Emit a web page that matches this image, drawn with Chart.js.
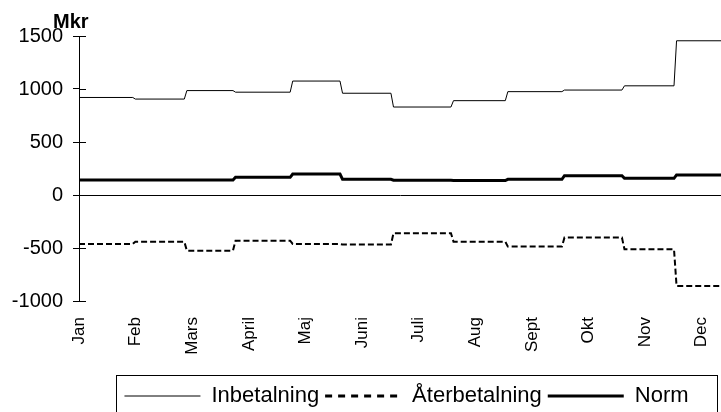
<!DOCTYPE html>
<html><head><meta charset="utf-8">
<script src="https://cdn.jsdelivr.net/npm/chart.js@4/dist/chart.umd.min.js"></script>
<style>html,body{margin:0;padding:0;background:#fff;}canvas{display:block;}</style>
</head><body>
<canvas id="c" width="721" height="412"></canvas>
<script>
const months = ['Jan','Feb','Mars','April','Maj','Juni','Juli','Aug','Sept','Okt','Nov','Dec'];
// position (in month units) where each monthly level begins
const stepStarts = [0, 0.95, 1.86, 2.72, 3.73, 4.61, 5.51, 6.57, 7.53, 8.53, 9.59, 10.51];
const inbetalning = [920, 905, 985, 970, 1075, 960, 830, 890, 975, 990, 1030, 1455];
const aterbetalning = [-462, -440, -525, -431, -462, -467, -361, -440, -487, -402, -512, -858];
const norm = [141, 141, 141, 167, 198, 148, 139, 136, 148, 182, 157, 189];
const yTicks = [-1000, -500, 0, 500, 1000, 1500];
const xEnd = 11.34;
const ramp = 0.045;

function stepPoints(values) {
  const pts = [];
  values.forEach((v, i) => {
    const x0 = i === 0 ? stepStarts[0] : stepStarts[i] + ramp;
    const x1 = i < values.length - 1 ? stepStarts[i + 1] : xEnd;
    pts.push({x: x0, y: v}, {x: x1, y: v});
  });
  return pts;
}

const FONT = '"Liberation Sans", Arial, sans-serif';
const LEGEND_SHIFT_X = 46;
const LEGEND_SHIFT_Y = 5;

const decor = {
  id: 'decor',
  afterLayout(chart) {
    const lg = chart.legend;
    lg.left += LEGEND_SHIFT_X;
    lg.right += LEGEND_SHIFT_X;
    lg.top += LEGEND_SHIFT_Y;
    lg.bottom += LEGEND_SHIFT_Y;
  },
  afterDraw(chart) {
    const ctx = chart.ctx, ys = chart.scales.y, ca = chart.chartArea;
    ctx.save();
    ctx.strokeStyle = '#000';
    ctx.lineWidth = 1;
    ctx.setLineDash([]);
    ctx.beginPath();
    yTicks.forEach(v => {
      const p = Math.round(ys.getPixelForValue(v)) + 0.5;
      ctx.moveTo(ca.left, p);
      ctx.lineTo(ca.left + 7, p);
    });
    ctx.stroke();
    ctx.fillStyle = '#000';
    ctx.font = 'bold 20px ' + FONT;
    ctx.textAlign = 'left';
    ctx.textBaseline = 'alphabetic';
    ctx.fillText('Mkr', 53, 28);
    const lg = chart.legend, hb = lg.legendHitBoxes;
    if (hb && hb.length) {
      const l = Math.round(hb[0].left - 8) + 0.5;
      const r = 717.5;
      const t = 375.5;
      ctx.strokeRect(l, t, r - l, chart.height + 10 - t);
    }
    ctx.restore();
  }
};

const dashes = [[], [7, 6], []];
const widths = [1, 3, 3];

new Chart(document.getElementById('c'), {
  type: 'line',
  data: {
    datasets: [
      {label: 'Inbetalning', data: stepPoints(inbetalning), borderColor: '#000', borderWidth: 1, pointRadius: 0, fill: false, tension: 0},
      {label: 'Återbetalning', data: stepPoints(aterbetalning), borderColor: '#000', borderWidth: 2, borderDash: [6, 3], pointRadius: 0, fill: false, tension: 0},
      {label: 'Norm', data: stepPoints(norm), borderColor: '#000', borderWidth: 3, pointRadius: 0, fill: false, tension: 0}
    ]
  },
  options: {
    responsive: false,
    animation: false,
    devicePixelRatio: 1,
    layout: {padding: {top: 36, right: 0, bottom: 0, left: 0}},
    plugins: {
      title: {display: false},
      tooltip: {enabled: false},
      legend: {
        display: true,
        position: 'bottom',
        labels: {
          usePointStyle: true,
          pointStyle: 'line',
          pointStyleWidth: 76,
          padding: 6,
          color: '#000',
          font: {family: FONT, size: 22},
          generateLabels: chart => {
            const items = Chart.defaults.plugins.legend.labels.generateLabels(chart);
            items.forEach((it, i) => {
              it.lineDash = dashes[i];
              it.lineWidth = widths[i];
              it.strokeStyle = '#000';
              it.pointStyle = 'line';
            });
            return items;
          }
        }
      }
    },
    scales: {
      x: {
        type: 'linear',
        min: 0,
        max: xEnd,
        afterBuildTicks: s => { s.ticks = months.map((m, i) => ({value: i})); },
        afterFit: s => { s.height = 73; s.paddingLeft = 0; s.paddingRight = 0; },
        grid: {display: false, drawTicks: false},
        border: {display: false},
        ticks: {
          autoSkip: false,
          maxRotation: 90,
          minRotation: 90,
          padding: 16,
          color: '#000',
          font: {family: FONT, size: 17},
          callback: v => months[Math.round(v)]
        }
      },
      y: {
        min: -1000,
        max: 1500,
        afterFit: s => { s.width = 79; s.paddingTop = 0; s.paddingBottom = 0; },
        afterBuildTicks: s => { s.ticks = yTicks.map(v => ({value: v})); },
        grid: {
          drawOnChartArea: true,
          color: c => (c.tick && c.tick.value === 0) ? '#000' : 'rgba(0,0,0,0)',
          tickColor: '#000',
          tickLength: 6,
          lineWidth: 1
        },
        border: {display: true, color: '#000', width: 1},
        ticks: {
          padding: 10,
          color: '#000',
          font: {family: FONT, size: 20},
          callback: v => String(v)
        }
      }
    }
  },
  plugins: [decor]
});
</script>
</body></html>
